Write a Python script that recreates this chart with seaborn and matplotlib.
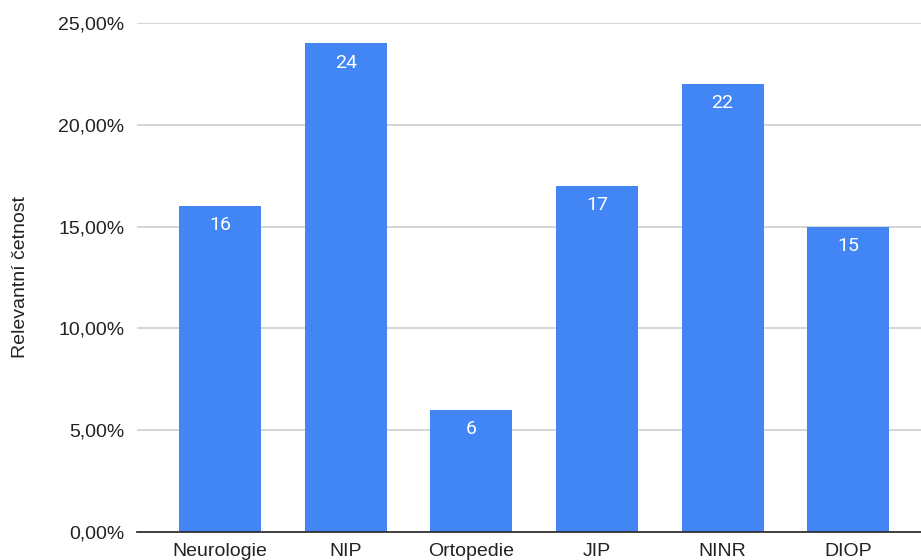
import seaborn as sns
import matplotlib.pyplot as plt
from matplotlib.ticker import FuncFormatter

# data
categories = ["Neurologie", "NIP", "Ortopedie", "JIP", "NINR", "DIOP"]
counts = [16, 24, 6, 17, 22, 15]
shares = [16.0, 24.0, 6.0, 17.0, 22.0, 15.0]  # percent
yticks = [0, 5, 10, 15, 20, 25]

sns.set_theme(style="white")
plt.rcParams['font.family'] = ['Liberation Sans', 'DejaVu Sans']

fig = plt.figure(figsize=(9.21, 5.6), dpi=100)
ax = fig.add_axes([137 / 921, 28 / 560, 1 - 137 / 921, 509 / 560])

sns.barplot(x=categories, y=shares, color="#4285F4", width=0.653,
            saturation=1, linewidth=0, ax=ax, zorder=3)

# value labels inside the bar tops
for i, (v, c) in enumerate(zip(shares, counts)):
    ax.annotate(str(c), (i, v), xytext=(0, -13.8), textcoords="offset points",
                ha="center", va="center", color="white", fontsize=14,
                family=["Roboto", "DejaVu Sans"], zorder=4)

ax.set_ylim(0, 25)
ax.set_xlim(-0.661, 5.58)
ax.set_yticks(yticks)
ax.yaxis.set_major_formatter(FuncFormatter(lambda v, p: f"{v:.2f}".replace(".", ",") + "%"))
ax.grid(axis="y", color="#cccccc", linewidth=1.1, zorder=0)
ax.tick_params(axis="y", length=0, pad=9, labelsize=14, labelcolor="#222222")
ax.tick_params(axis="x", length=0, pad=8, labelsize=14, labelcolor="#222222")

for s in ["top", "right", "left"]:
    ax.spines[s].set_visible(False)
ax.spines["bottom"].set_color("#333333")
ax.spines["bottom"].set_linewidth(1.3)
ax.spines["bottom"].set_zorder(5)

ax.set_xlabel("")
ax.set_ylabel("Relevantní četnost", fontsize=14, color="#222222", labelpad=21)

fig.savefig("out.png", dpi=100)
